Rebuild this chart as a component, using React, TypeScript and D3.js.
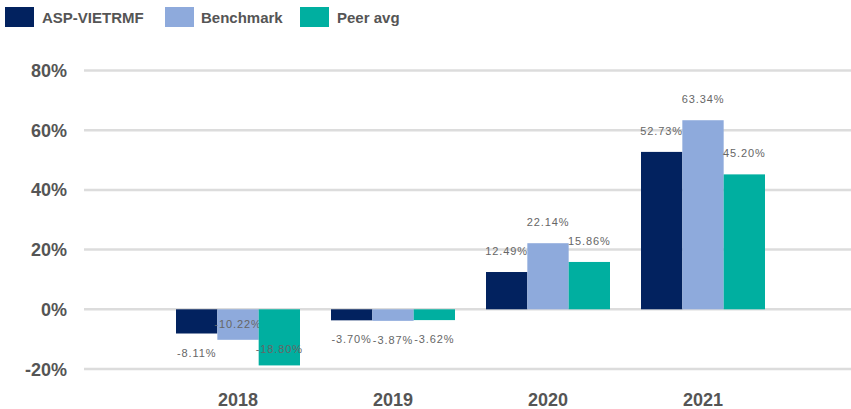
import React from "react";
import * as d3 from "d3";

const categories = ["2018", "2019", "2020", "2021"];
const seriesNames = ["ASP-VIETRMF", "Benchmark", "Peer avg"];
const aspValues = [-8.11, -3.7, 12.49, 52.73];
const benchmarkValues = [-10.22, -3.87, 22.14, 63.34];
const peerValues = [-18.8, -3.62, 15.86, 45.2];
const yTicks = [-20, 0, 20, 40, 60, 80];
const colors = ["#02225f", "#8eaadc", "#00afa0"];

const W = 851;
const H = 409;

export default function App() {
  const series = [aspValues, benchmarkValues, peerValues];
  const x = d3.scaleBand<string>().domain(categories).range([160.5, 780.5]).paddingInner(0.2).paddingOuter(0.1);
  const xi = d3.scaleBand<string>().domain(seriesNames).range([0, x.bandwidth()]).padding(0);
  const y = d3.scaleLinear().domain([-20, 80]).range([369, 70.5]);
  const font = "'Liberation Sans', Arial, sans-serif";

  const legendItems = [
    { sx: 5, tx: 42 },
    { sx: 165, tx: 201 },
    { sx: 300, tx: 337 },
  ];

  return (
    <svg width={W} height={H} style={{ position: "absolute", left: 0, top: 0, background: "#fff" }} fontFamily={font}>
      {seriesNames.map((n, i) => (
        <g key={n}>
          <rect x={legendItems[i].sx} y={7} width={29} height={20} fill={colors[i]} />
          <text x={legendItems[i].tx} y={22.5} fontSize={15} fontWeight="bold" fill="#555">
            {n}
          </text>
        </g>
      ))}
      {yTicks.map((t) => (
        <g key={t}>
          <line x1={84} x2={851} y1={y(t)} y2={y(t)} stroke="#dcdcdc" strokeWidth={2.5} />
          <text x={67} y={y(t) + 6.5} textAnchor="end" fontSize={18} fontWeight="bold" fill="#555">
            {t}%
          </text>
        </g>
      ))}
      {categories.map((c, ci) => (
        <g key={c} transform={`translate(${x(c)},0)`}>
          {seriesNames.map((s, si) => {
            const v = series[si][ci];
            const y0 = y(0);
            const yv = y(v);
            const bx = xi(s)!;
            let ly: number;
            if (v >= 0) ly = yv - 17;
            else {
              ly = yv + 23;
              if (ly > 358) ly = yv - 12;
            }
            return (
              <g key={s}>
                <rect x={bx} y={Math.min(y0, yv)} width={xi.bandwidth()} height={Math.abs(yv - y0)} fill={colors[si]} />
                <text
                  x={bx + xi.bandwidth() / 2}
                  y={ly}
                  textAnchor="middle"
                  fontSize={11}
                  letterSpacing={0.9}
                  fill="#666"
                >
                  {v.toFixed(2)}%
                </text>
              </g>
            );
          })}
          <text x={x.bandwidth() / 2} y={406} textAnchor="middle" fontSize={18} fontWeight="bold" fill="#555">
            {c}
          </text>
        </g>
      ))}
    </svg>
  );
}
